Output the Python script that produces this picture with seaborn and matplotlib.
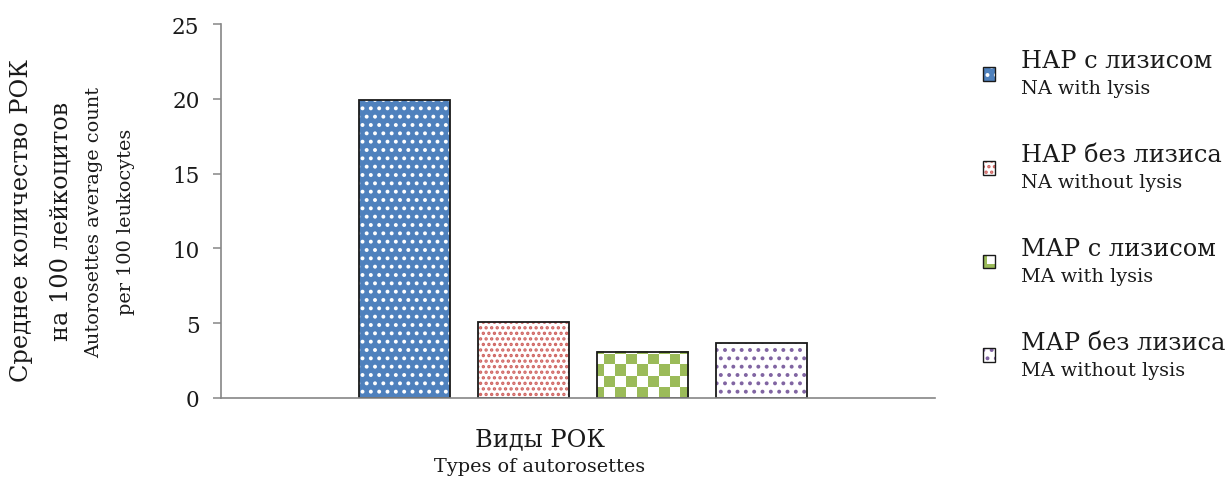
import numpy as np
import pandas as pd
import matplotlib
matplotlib.use("Agg")
import matplotlib.pyplot as plt
import seaborn as sns
from matplotlib.patches import Rectangle
from matplotlib.legend_handler import HandlerBase

# ---- data -------------------------------------------------------------
kinds_ru = ["НАР с лизисом", "НАР без лизиса", "МАР с лизисом", "МАР без лизиса"]
kinds_en = ["NA with lysis", "NA without lysis", "MA with lysis", "MA without lysis"]
values = [19.9, 5.05, 3.1, 3.65]
yticks = [0, 5, 10, 15, 20, 25]

# ---- styling ----------------------------------------------------------
face_colors = ["#4F81BD", "white", "white", "white"]
dot_colors = ["white", "#CF6360", "#9BBB59", "#8064A2"]
hatches = ["..", "...", None, ".."]
CHECK_GREEN = "#9BBB59"
AXIS_GRAY = "#868686"
INK = "#1a1a1a"
RU_SIZE, EN_SIZE = 17.3, 13.9

sns.set_theme(style="white")
plt.rcParams["font.family"] = ["DejaVu Serif", "Liberation Serif"]
plt.rcParams["hatch.linewidth"] = 1.6

W, H = 1228, 481
fig = plt.figure(figsize=(W / 100, H / 100), dpi=100)
ax = fig.add_axes([221 / W, 1 - 399 / H, (935 - 221) / W, (399 - 25) / H])

df = pd.DataFrame({"kind": kinds_ru, "value": values})
sns.barplot(data=df, x="kind", y="value", hue="kind",
            palette=dict(zip(kinds_ru, face_colors)), saturation=1,
            width=0.765, legend=False, ax=ax)

XLIM = (-1.54, 4.46)
ax.set_xlim(*XLIM)
ax.set_ylim(0, 25)
ax.set_yticks(yticks)
ax.set_xticks([])
ax.set_xlabel("")
ax.set_ylabel("")

bars = list(ax.patches)
for bar, fc, dc, hatch in zip(bars, face_colors, dot_colors, hatches):
    bar.set_facecolor(fc)
    bar.set_linewidth(0)
    if hatch:
        bar.set_hatch(hatch)
        bar.set_edgecolor(dc)
    bar.set_zorder(2)

# checkerboard texture for the third bar, clipped to the bar shape
fig.canvas.draw()
cb = bars[2]
x0, w, h = cb.get_x(), cb.get_width(), cb.get_height()
p0 = ax.transData.transform((x0, 0))
p1 = ax.transData.transform((x0 + w, h))
pw, ph = int(round(p1[0] - p0[0])), int(round(p1[1] - p0[1]))
cell = 10.7
jj, ii = np.meshgrid(np.arange(pw) + (cell - 7), np.arange(ph))
mask = ((jj // cell + ii // cell) % 2).astype(int)
rgb_g = np.array(matplotlib.colors.to_rgb(CHECK_GREEN))
img = np.where(mask[..., None] == 0, rgb_g, np.ones(3))
ax.imshow(img, extent=(x0, x0 + w, 0, h), origin="lower", aspect="auto",
          interpolation="nearest", zorder=2.5, clip_path=cb, clip_on=True)
ax.set_xlim(*XLIM)
ax.set_ylim(0, 25)

# dark outline over each bar
for bar in bars:
    ax.add_patch(Rectangle((bar.get_x(), bar.get_y()), bar.get_width(), bar.get_height(),
                           fill=False, edgecolor=INK, linewidth=1.3, zorder=3))

for side in ["top", "right"]:
    ax.spines[side].set_visible(False)
for side in ["left", "bottom"]:
    ax.spines[side].set_color(AXIS_GRAY)
    ax.spines[side].set_linewidth(1.2)
    ax.spines[side].set_zorder(4)
ax.tick_params(axis="y", direction="out", length=5.5, width=1.1, color=AXIS_GRAY,
               labelsize=15.5, pad=10, left=True, labelcolor=INK)

# ---- axis titles ------------------------------------------------------
fig.text(22 / W, 1 - 221 / H, "Среднее количество РОК", rotation=90,
         ha="center", va="center", fontsize=RU_SIZE, color=INK)
fig.text(61 / W, 1 - 221 / H, "на 100 лейкоцитов", rotation=90,
         ha="center", va="center", fontsize=RU_SIZE, color=INK)
fig.text(94 / W, 1 - 222 / H, "Autorosettes average count", rotation=90,
         ha="center", va="center", fontsize=EN_SIZE, color=INK)
fig.text(126 / W, 1 - 222 / H, "per 100 leukocytes", rotation=90,
         ha="center", va="center", fontsize=EN_SIZE, color=INK)
fig.text(540 / W, 1 - 440 / H, "Виды РОК", ha="center", va="center",
         fontsize=RU_SIZE, color=INK)
fig.text(540 / W, 1 - 467 / H, "Types of autorosettes", ha="center", va="center",
         fontsize=EN_SIZE, color=INK)


# ---- legend -----------------------------------------------------------
KEY_DROP = 11  # points: the key sits between the two text lines


class CheckerHandler(HandlerBase):
    def create_artists(self, legend, orig_handle, xdescent, ydescent,
                       width, height, fontsize, trans):
        y = -ydescent - KEY_DROP
        bg = Rectangle((-xdescent, y), width, height, facecolor=CHECK_GREEN,
                       edgecolor="none", transform=trans)
        hole = Rectangle((-xdescent + 0.3 * width, y + 0.3 * height),
                         0.7 * width, 0.7 * height, facecolor="white",
                         edgecolor="none", transform=trans)
        frame = Rectangle((-xdescent, y), width, height, fill=False,
                          edgecolor=INK, linewidth=1.0, transform=trans)
        return [bg, hole, frame]


class DotHandler(HandlerBase):
    def create_artists(self, legend, orig_handle, xdescent, ydescent,
                       width, height, fontsize, trans):
        y = -ydescent - KEY_DROP
        bg = Rectangle((-xdescent, y), width, height, facecolor=orig_handle.fc,
                       edgecolor=orig_handle.dc, hatch=orig_handle.hatch,
                       linewidth=0, transform=trans)
        frame = Rectangle((-xdescent, y), width, height, fill=False,
                          edgecolor=INK, linewidth=1.0, transform=trans)
        return [bg, frame]


class DotKey:
    def __init__(self, fc, dc, hatch):
        self.fc, self.dc, self.hatch = fc, dc, hatch


class CheckKey:
    pass


keys = [CheckKey() if hatch is None else DotKey(fc, dc, hatch)
        for fc, dc, hatch in zip(face_colors, dot_colors, hatches)]

leg = fig.legend(keys, kinds_ru,
                 handler_map={DotKey: DotHandler(), CheckKey: CheckerHandler()},
                 loc="upper left", bbox_to_anchor=(983 / W, 1 - 50 / H),
                 frameon=False, fontsize=RU_SIZE, handlelength=0.51, handleheight=0.51,
                 handletextpad=1.08, labelspacing=2.95, borderpad=0, borderaxespad=0)
for t in leg.get_texts():
    t.set_color(INK)

fig.canvas.draw()
inv = fig.transFigure.inverted()
for txt, en in zip(leg.get_texts(), kinds_en):
    bb = txt.get_window_extent()
    fx, fy = inv.transform((bb.x0, bb.y0 - 21))
    fig.text(fx, fy, en, ha="left", va="baseline", fontsize=EN_SIZE, color=INK)

fig.savefig("out.png", dpi=100)
